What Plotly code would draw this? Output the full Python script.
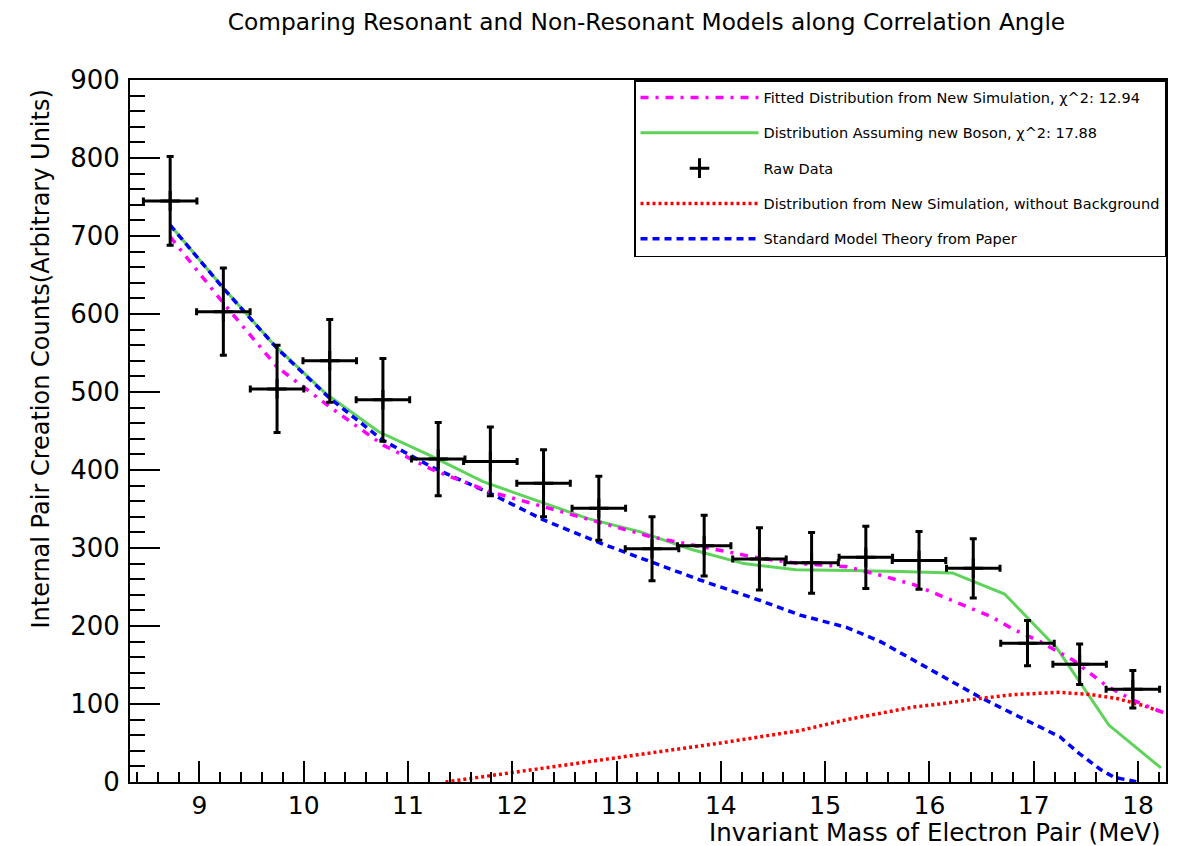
import plotly.graph_objects as go

# ---- data ----
data_x = [8.72, 9.23, 9.745, 10.25, 10.76, 11.29, 11.79, 12.30, 12.83, 13.34,
          13.84, 14.37, 14.87, 15.39, 15.90, 16.42, 16.94, 17.44, 17.95]
data_y = [745, 603, 504, 540, 490, 414, 411, 383, 351, 299,
          303, 286, 281, 288, 284, 274, 178, 151, 119]
data_err = [57, 56, 56, 53, 53, 47, 44, 43, 41, 41,
            39, 40, 39, 40, 37, 38, 29, 26, 24]
bin_half_width = 0.2565

fit_x = [8.72, 9.23, 9.745, 10.25, 10.76, 11.24, 11.79, 12.30, 12.85, 13.34,
         13.84, 14.37, 14.76, 15.21, 15.53, 15.85, 16.23, 16.59, 16.80, 17.06,
         17.38, 17.70, 17.95, 18.24]
fit_y = [699, 614, 532, 481, 432, 400, 372, 353, 333, 314,
         301, 287, 280, 276, 265, 253, 232, 212, 196, 180,
         156, 123, 105, 89]

boson_x = [8.72, 9.22, 9.72, 10.22, 10.72, 11.22, 11.72, 12.22, 12.72, 13.22,
           13.72, 14.22, 14.72, 15.22, 15.72, 16.22, 16.72, 17.22, 17.72, 18.22]
boson_y = [714, 635, 560, 497, 449, 418, 385, 361, 338, 321,
           298, 280, 272, 271, 270, 268, 241, 172, 73, 18]

signal_x = [11.36, 12.0, 13.0, 14.0, 14.76, 15.21, 15.84, 16.10, 16.48, 16.80,
            17.25, 17.55, 17.80, 18.05, 18.24]
signal_y = [0, 12, 30.5, 50, 66, 80, 96, 100, 107, 112,
            115, 112, 107, 98, 89]

sm_x = [8.72, 9.23, 9.745, 10.25, 10.76, 11.24, 11.79, 12.30, 12.85, 13.34,
        13.80, 14.37, 14.76, 15.21, 15.53, 15.85, 16.10, 16.48, 16.87, 17.25,
        17.44, 17.64, 17.77, 18.0]
sm_y = [714, 633, 556, 492, 438, 403, 370, 336, 306, 282,
        259, 233, 214, 198, 180, 156, 137, 109, 83, 58,
        36, 16, 6, 0]

names = ["Fitted Distribution from New Simulation, \u03c7^2: 12.94",
         "Distribution Assuming new Boson, \u03c7^2: 17.88",
         "Raw Data",
         "Distribution from New Simulation, without Background",
         "Standard Model Theory from Paper"]

FONT = "DejaVu Sans, Liberation Sans, Arial, sans-serif"

fig = go.Figure()

fig.add_trace(go.Scatter(x=boson_x, y=boson_y, mode="lines", name=names[1],
                         line=dict(color="#5ed35a", width=3),
                         legendrank=2, legendgroup="g2"))
fig.add_trace(go.Scatter(x=sm_x, y=sm_y, mode="lines", name=names[4],
                         line=dict(color="#0000ff", width=3.5, dash="7px,5px"),
                         legendrank=5, legendgroup="g5"))
fig.add_trace(go.Scatter(x=signal_x, y=signal_y, mode="lines", name=names[3],
                         line=dict(color="#ff0000", width=3.5, dash="3px,3px"),
                         legendrank=4, legendgroup="g4"))
fig.add_trace(go.Scatter(x=fit_x, y=fit_y, mode="lines", name=names[0],
                         line=dict(color="#ff00ff", width=3.5, dash="8px,7px,3px,7px"),
                         legendrank=1, legendgroup="g1"))
fig.add_trace(go.Scatter(x=data_x, y=data_y, mode="markers", name=names[2],
                         marker=dict(symbol="cross-thin", size=14, color="black",
                                     line=dict(width=3, color="black")),
                         error_y=dict(type="data", array=data_err, visible=True,
                                      color="black", thickness=3, width=3.5),
                         error_x=dict(type="constant", value=bin_half_width, visible=True,
                                      color="black", thickness=3, width=3.5),
                         legendrank=3, legendgroup="g3"))

# the page is drawn with an 8px body offset, so the margins compensate for it
fig.update_layout(
    width=1180, height=846,
    margin=dict(l=122, r=22, t=72, b=72),
    paper_bgcolor="white", plot_bgcolor="white",
    font=dict(family=FONT, color="black"),
    title=dict(text="Comparing Resonant and Non-Resonant Models along Correlation Angle",
               x=638.5 / 1180, xanchor="center", y=1 - 14 / 846, yanchor="middle",
               font=dict(size=23.3, family=FONT, color="black")),
    showlegend=True,
    legend=dict(x=1.0, xanchor="right", y=1.0, yanchor="top",
                bgcolor="white", bordercolor="black", borderwidth=1.5,
                font=dict(size=14.5, family=FONT, color="black"),
                itemwidth=118, tracegroupgap=13.5, traceorder="grouped"),
)

fig.update_xaxes(range=[8.335, 18.268], showline=True, linecolor="black", linewidth=2,
                 mirror=True, ticks="inside", ticklen=21, tickwidth=1.5, tickcolor="black",
                 dtick=1, tick0=0, showgrid=False, zeroline=False,
                 tickfont=dict(size=25, family=FONT),
                 minor=dict(ticks="inside", ticklen=10, dtick=0.2, tickwidth=1.5,
                            tickcolor="black", showgrid=False))
fig.update_yaxes(range=[0, 900], showline=True, linecolor="black", linewidth=2,
                 mirror=True, ticks="inside", ticklen=30, tickwidth=1.5, tickcolor="black",
                 dtick=100, tick0=0, showgrid=False, zeroline=False,
                 tickfont=dict(size=26, family=FONT), ticklabelstandoff=3,
                 minor=dict(ticks="inside", ticklen=15, dtick=20, tickwidth=1.5,
                            tickcolor="black", showgrid=False))

fig.add_annotation(text="Internal Pair Creation Counts(Arbitrary Units)",
                   xref="paper", yref="paper", x=(40 - 130) / 1036, y=(782 - 88) / 702,
                   xanchor="center", yanchor="top", textangle=-90, showarrow=False,
                   font=dict(size=24, family=FONT, color="black"))
fig.add_annotation(text="Invariant Mass of Electron Pair (MeV)",
                   xref="paper", yref="paper", x=(1163 - 130) / 1036, y=(782 - 849) / 702,
                   xanchor="right", yanchor="bottom", showarrow=False,
                   font=dict(size=24.5, family=FONT, color="black"))

fig.write_html("out.html")
